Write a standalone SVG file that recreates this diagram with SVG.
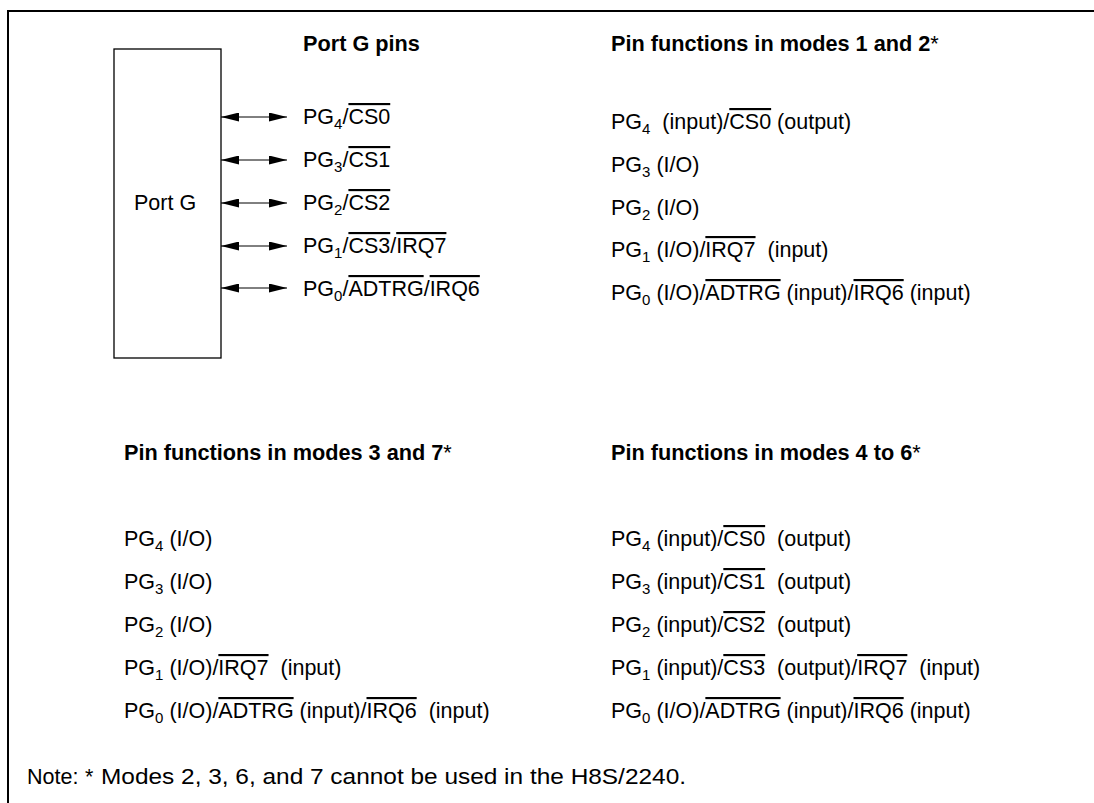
<svg xmlns="http://www.w3.org/2000/svg" width="1094" height="803" viewBox="0 0 1094 803">
<style>
text{font-family:"Liberation Sans",Arial,sans-serif;font-size:21.5px;fill:#000;white-space:pre}
.b{font-weight:bold;font-size:21.7px}
.n{font-weight:normal}
.s{font-size:15px}
.o{text-decoration:overline}
.ln{stroke:#000;stroke-width:1;fill:none}
</style>
<defs>
<marker id="ah" viewBox="0 0 18 9" refX="18" refY="4.5" markerWidth="18" markerHeight="9" markerUnits="userSpaceOnUse" orient="auto-start-reverse">
<path d="M0,0 L18,4.5 L0,9 Z" fill="#000"/>
</marker>
</defs>
<rect width="1094" height="803" fill="#fff"/>
<path d="M8,803 V11 H1094" fill="none" stroke="#000" stroke-width="2"/>

<g id="portg">
<rect x="114" y="49" width="107" height="309" fill="none" stroke="#000" stroke-width="1.3"/>
<text x="134" y="210">Port G</text>
</g>

<g id="connectors">
<line class="ln" x1="221" y1="117" x2="287" y2="117" marker-start="url(#ah)" marker-end="url(#ah)"/>
<line class="ln" x1="221" y1="160" x2="287" y2="160" marker-start="url(#ah)" marker-end="url(#ah)"/>
<line class="ln" x1="221" y1="203" x2="287" y2="203" marker-start="url(#ah)" marker-end="url(#ah)"/>
<line class="ln" x1="221" y1="246" x2="287" y2="246" marker-start="url(#ah)" marker-end="url(#ah)"/>
<line class="ln" x1="221" y1="288" x2="287" y2="288" marker-start="url(#ah)" marker-end="url(#ah)"/>
</g>

<g id="pins">
<text class="b" x="303" y="51">Port G pins</text>
<text x="303" y="124">PG<tspan class="s" dy="5">4</tspan><tspan dy="-5">/</tspan><tspan class="o">CS0</tspan></text>
<text x="303" y="167">PG<tspan class="s" dy="5">3</tspan><tspan dy="-5">/</tspan><tspan class="o">CS1</tspan></text>
<text x="303" y="210">PG<tspan class="s" dy="5">2</tspan><tspan dy="-5">/</tspan><tspan class="o">CS2</tspan></text>
<text x="303" y="253">PG<tspan class="s" dy="5">1</tspan><tspan dy="-5">/</tspan><tspan class="o">CS3</tspan>/<tspan class="o">IRQ7</tspan></text>
<text x="303" y="296">PG<tspan class="s" dy="5">0</tspan><tspan dy="-5">/</tspan><tspan class="o">ADTRG</tspan>/<tspan class="o">IRQ6</tspan></text>
</g>

<g id="modes12">
<text class="b" x="611" y="51">Pin functions in modes 1 and 2<tspan class="n">*</tspan></text>
<text x="611" y="129">PG<tspan class="s" dy="5">4</tspan><tspan dy="-5">  (input)/</tspan><tspan class="o">CS0</tspan> (output)</text>
<text x="611" y="172">PG<tspan class="s" dy="5">3</tspan><tspan dy="-5"> (I/O)</tspan></text>
<text x="611" y="215">PG<tspan class="s" dy="5">2</tspan><tspan dy="-5"> (I/O)</tspan></text>
<text x="611" y="257">PG<tspan class="s" dy="5">1</tspan><tspan dy="-5"> (I/O)/</tspan><tspan class="o">IRQ7</tspan>  (input)</text>
<text x="611" y="300">PG<tspan class="s" dy="5">0</tspan><tspan dy="-5"> (I/O)/</tspan><tspan class="o">ADTRG</tspan> (input)/<tspan class="o">IRQ6</tspan> (input)</text>
</g>

<g id="modes37">
<text class="b" x="124" y="460">Pin functions in modes 3 and 7<tspan class="n">*</tspan></text>
<text x="124" y="546">PG<tspan class="s" dy="5">4</tspan><tspan dy="-5"> (I/O)</tspan></text>
<text x="124" y="589">PG<tspan class="s" dy="5">3</tspan><tspan dy="-5"> (I/O)</tspan></text>
<text x="124" y="632">PG<tspan class="s" dy="5">2</tspan><tspan dy="-5"> (I/O)</tspan></text>
<text x="124" y="675">PG<tspan class="s" dy="5">1</tspan><tspan dy="-5"> (I/O)/</tspan><tspan class="o">IRQ7</tspan>  (input)</text>
<text x="124" y="718">PG<tspan class="s" dy="5">0</tspan><tspan dy="-5"> (I/O)/</tspan><tspan class="o">ADTRG</tspan> (input)/<tspan class="o">IRQ6</tspan>  (input)</text>
</g>

<g id="modes46">
<text class="b" x="611" y="460">Pin functions in modes 4 to 6<tspan class="n">*</tspan></text>
<text x="611" y="546">PG<tspan class="s" dy="5">4</tspan><tspan dy="-5"> (input)/</tspan><tspan class="o">CS0</tspan>  (output)</text>
<text x="611" y="589">PG<tspan class="s" dy="5">3</tspan><tspan dy="-5"> (input)/</tspan><tspan class="o">CS1</tspan>  (output)</text>
<text x="611" y="632">PG<tspan class="s" dy="5">2</tspan><tspan dy="-5"> (input)/</tspan><tspan class="o">CS2</tspan>  (output)</text>
<text x="611" y="675">PG<tspan class="s" dy="5">1</tspan><tspan dy="-5"> (input)/</tspan><tspan class="o">CS3</tspan>  (output)/<tspan class="o">IRQ7</tspan>  (input)</text>
<text x="611" y="718">PG<tspan class="s" dy="5">0</tspan><tspan dy="-5"> (I/O)/</tspan><tspan class="o">ADTRG</tspan> (input)/<tspan class="o">IRQ6</tspan> (input)</text>
</g>

<g id="note">
<text x="27" y="784">Note:</text>
<text x="85" y="784">*</text>
<text x="101" y="784" font-size="23" textLength="585" lengthAdjust="spacingAndGlyphs">Modes 2, 3, 6, and 7 cannot be used in the H8S/2240.</text>
</g>
</svg>
